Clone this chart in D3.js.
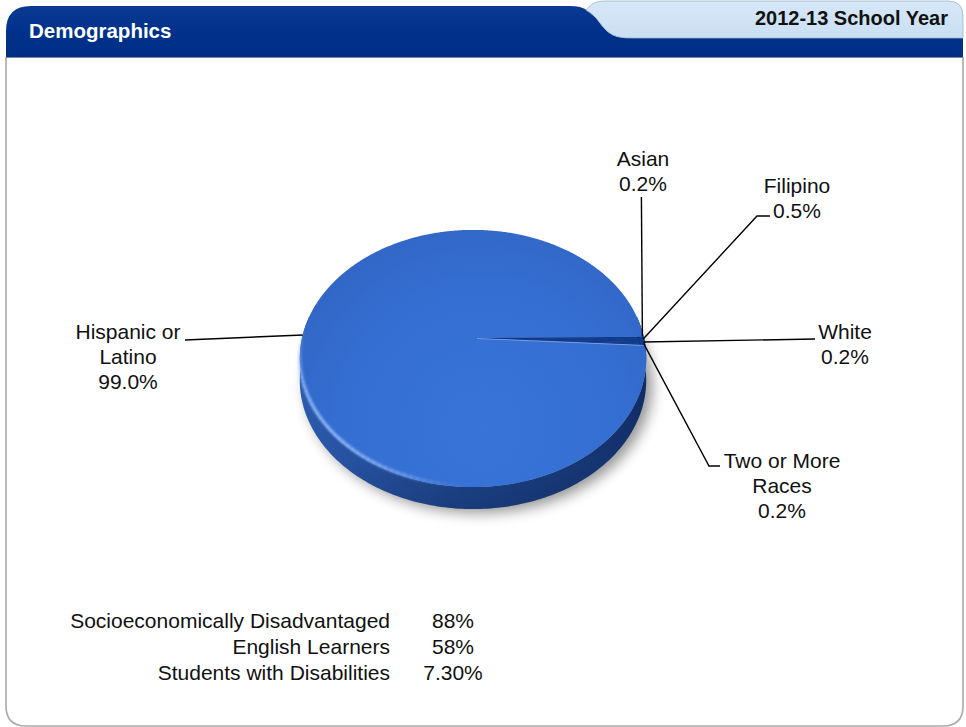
<!DOCTYPE html>
<html><head><meta charset="utf-8">
<script src="https://cdn.jsdelivr.net/npm/d3@7"></script>
<style>html,body{margin:0;padding:0;background:#fff;}svg{display:block;}</style>
</head><body>
<script>
// ---- data ----
const categories = ["Asian", "Filipino", "White", "Two or More Races", "Hispanic or Latino"];
const values = [0.2, 0.5, 0.2, 0.2, 99.0];
const labelLines = [["Asian", "0.2%"], ["Filipino", "0.5%"], ["White", "0.2%"], ["Two or More", "Races", "0.2%"], ["Hispanic or", "Latino", "99.0%"]];
const statLabels = ["Socioeconomically Disadvantaged", "English Learners", "Students with Disabilities"];
const statValues = ["88%", "58%", "7.30%"];
const title = "Demographics";
const yearLabel = "2012-13 School Year";

// ---- layout ----
const W = 966, H = 727;
const svg = d3.select("body").append("svg").attr("width", W).attr("height", H);
const defs = svg.append("defs");
const FONT = "'Liberation Sans', Arial, Helvetica, sans-serif";

const gDark = defs.append("linearGradient").attr("id", "gDark").attr("x1", 0).attr("y1", 0).attr("x2", 0).attr("y2", 1);
gDark.append("stop").attr("offset", 0).attr("stop-color", "#0b3a93");
gDark.append("stop").attr("offset", 0.5).attr("stop-color", "#00328b");
gDark.append("stop").attr("offset", 1).attr("stop-color", "#002e86");
const gLight = defs.append("linearGradient").attr("id", "gLight").attr("x1", 0).attr("y1", 0).attr("x2", 0).attr("y2", 1);
gLight.append("stop").attr("offset", 0).attr("stop-color", "#d6e7f7");
gLight.append("stop").attr("offset", 1).attr("stop-color", "#cadff3");

// panel
svg.append("path")
  .attr("d", "M6,57 L6,706 Q6,726 26,726 L943,726 Q963,726 963,706 L963,57")
  .attr("fill", "#fff").attr("stroke", "#a9a9a9").attr("stroke-width", 1.6);
svg.append("path")
  .attr("d", "M6,57 L6,31 Q6,6 31,6 L570,6 C585,6 592,12 600,23 C609,35 615,38 632,38 L963,38 L963,57 Z")
  .attr("fill", "url(#gDark)");
svg.append("path")
  .attr("d", "M586,10 C592,3 596,1 606,1 L948,1 Q963,1 963,16 L963,38 L632,38 C615,38 609,35 600,23 C596,17 591,13 586,10 Z")
  .attr("fill", "url(#gLight)").attr("stroke", "#9fb3c8").attr("stroke-width", 0.8);
svg.append("line").attr("x1", 6).attr("x2", 963).attr("y1", 57.5).attr("y2", 57.5).attr("stroke", "#7b8797").attr("stroke-width", 1.2);

svg.append("text").attr("x", 29).attr("y", 38).text(title)
  .attr("font-family", FONT).attr("font-weight", "bold").attr("font-size", 20.5).attr("fill", "#fff");
svg.append("text").attr("x", 948).attr("y", 25).text(yearLabel).attr("text-anchor", "end")
  .attr("font-family", FONT).attr("font-weight", "bold").attr("font-size", 20).attr("fill", "#111");

// ---- 3D pie: perspective top face, constant-depth side ----
const cx0 = 473, cy0 = 338;
const A = 171, sinA = 0.733, dist = 4.27, depth = 22;
const cosA = Math.sqrt(1 - sinA * sinA), S = A * dist;
function project(X, Z) {
  const zc = dist - Z * cosA;
  const yc = -Z * sinA;
  return [cx0 + S * X / zc, cy0 - S * yc / zc];
}
const rim = (t, dy = 0) => { const p = project(Math.cos(t), Math.sin(t)); return [p[0], p[1] + dy]; };

const pie = d3.pie().sort(null).startAngle(Math.PI / 2 - 0.01).endAngle(Math.PI / 2 - 0.01 + 2 * Math.PI);
const arcs = pie(values);
const toT = a => a - Math.PI / 2;

// shadow
const blur = defs.append("filter").attr("id", "blur").attr("x", "-30%").attr("y", "-30%").attr("width", "160%").attr("height", "160%");
blur.append("feGaussianBlur").attr("stdDeviation", 7);
const bottomPts = d3.range(0, 361, 3).map(d => rim(d * Math.PI / 180, depth));
svg.append("path").attr("d", d3.line()(bottomPts.map(p => [p[0] + 6, p[1] + 4])) + "Z")
  .attr("fill", "#000").attr("opacity", 0.42).attr("filter", "url(#blur)");

// side (single path, horizontal shading)
const xl = rim(Math.PI)[0] - 4, xr = rim(0)[0] + 4;
const gSide = defs.append("linearGradient").attr("id", "gSide").attr("gradientUnits", "userSpaceOnUse")
  .attr("x1", xl).attr("y1", 0).attr("x2", xr).attr("y2", 0);
[[0, "#2c5cae"], [0.12, "#2753a2"], [0.45, "#1d448c"], [0.8, "#173877"], [1, "#112d66"]].forEach(s =>
  gSide.append("stop").attr("offset", s[0]).attr("stop-color", s[1]));
const sideOutline = d3.range(-10, 191, 1).map(d => rim(d * Math.PI / 180)).concat(d3.range(190, -11, -1).map(d => rim(d * Math.PI / 180, depth)));
svg.append("path").attr("d", d3.line()(sideOutline) + "Z").attr("fill", "url(#gSide)");
const gSideV = defs.append("linearGradient").attr("id", "gSideV").attr("gradientUnits", "userSpaceOnUse")
  .attr("x1", 0).attr("y1", 460).attr("x2", 0).attr("y2", 510);
gSideV.append("stop").attr("offset", 0).attr("stop-color", "#000").attr("stop-opacity", 0);
gSideV.append("stop").attr("offset", 1).attr("stop-color", "#000").attr("stop-opacity", 0.12);
svg.append("path").attr("d", d3.line()(sideOutline) + "Z").attr("fill", "url(#gSideV)");

// top surface
const gTop = defs.append("radialGradient").attr("id", "gTop").attr("gradientUnits", "userSpaceOnUse")
  .attr("cx", cx0 + 10).attr("cy", cy0 + 90).attr("r", 260);
gTop.append("stop").attr("offset", 0).attr("stop-color", "#3874d9");
gTop.append("stop").attr("offset", 0.55).attr("stop-color", "#356ed1");
gTop.append("stop").attr("offset", 1).attr("stop-color", "#2f61bd");

function slicePath(d) {
  const a0 = toT(d.startAngle), a1 = toT(d.endAngle);
  const n = Math.max(2, Math.ceil((a1 - a0) / (Math.PI / 360)));
  const p = [project(0, 0)];
  for (let i = 0; i <= n; i++) p.push(rim(a0 + (a1 - a0) * i / n));
  return d3.line()(p) + "Z";
}
svg.selectAll("path.slice").data(arcs).join("path").attr("class", "slice")
  .attr("d", slicePath)
  .attr("fill", (d, i) => i === values.length - 1 ? "url(#gTop)" : "#103c90")
  .attr("stroke", (d, i) => i === values.length - 1 ? "none" : "#0d3583").attr("stroke-width", 0.4);
const lastSmall = arcs[values.length - 2];
svg.append("line")
  .attr("x1", cx0 + 4).attr("y1", cy0 + 0.5)
  .attr("x2", rim(toT(lastSmall.endAngle))[0]).attr("y2", rim(toT(lastSmall.endAngle))[1])
  .attr("stroke", "#86aef0").attr("stroke-width", 0.9).attr("opacity", 0.85);

// bevel highlight on the near-left rim
const blur2 = defs.append("filter").attr("id", "blur2").attr("x", "-20%").attr("y", "-20%").attr("width", "140%").attr("height", "140%");
blur2.append("feGaussianBlur").attr("stdDeviation", 1.3);
const hl = svg.append("g").attr("filter", "url(#blur2)");
const hlSegs = d3.range(92, 184, 2).map(d => ({ a: rim(d * Math.PI / 180, -1.5), b: rim((d + 2) * Math.PI / 180, -1.5), o: Math.pow(Math.sin((d - 92) / 92 * Math.PI), 1.2) }));
hl.selectAll("line").data(hlSegs).join("line")
  .attr("x1", s => s.a[0]).attr("y1", s => s.a[1]).attr("x2", s => s.b[0]).attr("y2", s => s.b[1])
  .attr("stroke", "#8ab4f7").attr("stroke-width", 3.5).attr("stroke-linecap", "round").attr("opacity", s => 0.85 * s.o);

// ---- labels and leader lines ----
const labelLayout = [
  { x: 643, y: 166, path: a => [a, [a[0] - 1, 197]] },
  { x: 797, y: 193, path: a => [a, [757, 216], [770, 216]] },
  { x: 845, y: 339, path: a => [a, [815, 339]] },
  { x: 782, y: 468, path: a => [a, [709, 466], [720, 466]] },
  { x: 128, y: 339, path: a => [a, [185, 340]] }
];
const lineGap = 25;
arcs.forEach((d, i) => {
  let a = rim(toT((d.startAngle + d.endAngle) / 2));
  if (i < values.length - 1) a = [a[0] - 1.5, a[1] - 1];
  const Lb = labelLayout[i];
  svg.append("path").attr("d", d3.line()(Lb.path(a))).attr("fill", "none")
    .attr("stroke", "#000").attr("stroke-width", 1.4);
  const t = svg.append("text").attr("font-family", FONT).attr("font-size", 21).attr("fill", "#111").attr("text-anchor", "middle");
  labelLines[i].forEach((s, k) => t.append("tspan").attr("x", Lb.x).attr("y", Lb.y + k * lineGap).text(s));
});

// ---- stats table ----
statLabels.forEach((s, i) => {
  svg.append("text").attr("x", 390).attr("y", 628 + i * 26).attr("text-anchor", "end")
    .attr("font-family", FONT).attr("font-size", 21).attr("fill", "#111").text(s);
  svg.append("text").attr("x", 453).attr("y", 628 + i * 26).attr("text-anchor", "middle")
    .attr("font-family", FONT).attr("font-size", 21).attr("fill", "#111").text(statValues[i]);
});
</script>
</body></html>
